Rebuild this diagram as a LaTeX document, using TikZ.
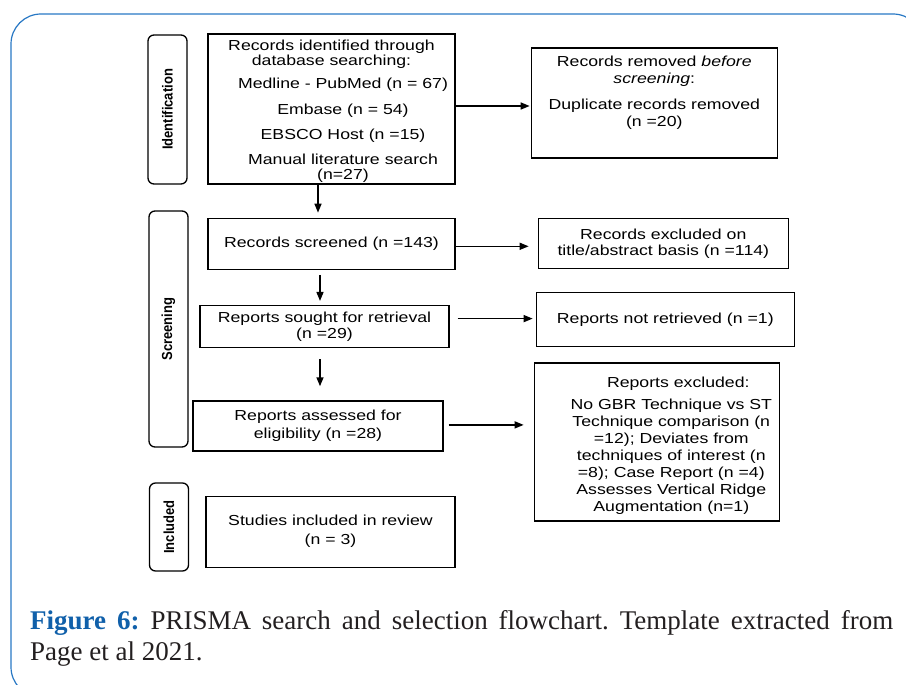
\documentclass[tikz,border=0pt]{standalone}
\usepackage{fontspec}
\newfontfamily\boxfont[FakeStretch=1.22]{Liberation Sans}
\newfontfamily\labfont{Liberation Sans}
\newfontfamily\capfont{Liberation Serif}
\usetikzlibrary{arrows.meta, positioning}
\definecolor{frameblue}{RGB}{40, 120, 196}
\definecolor{capblue}{RGB}{16, 96, 170}
\definecolor{captext}{RGB}{35, 31, 32}
\newcommand{\phaselabel}[1]{\scalebox{1}[1.12]{#1}}
\tikzset{
  flowbox/.style={draw, line width=1.3pt, inner sep=0pt, align=center, font=\boxfont\fontsize{14.5}{16.5}\selectfont},
  boxtext/.style={align=center, inner sep=0pt, font=\boxfont\fontsize{14.5}{16.5}\selectfont},
  phasebox/.style={draw, line width=1.3pt, rounded corners=6pt, rotate=90, inner sep=0pt, minimum height=39pt, font=\labfont\bfseries\fontsize{13}{15}\selectfont},
  flowarrow/.style={-{Triangle[length=9pt, width=7pt]}, line width=1.5pt},
}

\begin{document}
\begin{tikzpicture}[x=1pt, y=-1pt, node distance=35pt]
  \useasboundingbox (0,0) rectangle (906,685);
  \draw[frameblue, line width=1.2pt, rounded corners=30pt] (11,14) rectangle (923,697);

  % identification
  \node[flowbox, minimum width=247pt, minimum height=150pt] (ident) at (331.5,109) {};
  \node[boxtext] (idhead) at ([yshift=-20.5pt]ident.north) {Records identified through\\[-1.5pt]database searching:};
  \node[boxtext] (idsrc) at ([xshift=11.5pt, yshift=-21pt]ident.center) {Medline - PubMed (n = 67)\\[9pt]Embase (n = 54)\\[8.5pt]EBSCO Host (n =15)\\[8.5pt]Manual literature search\\[-1.5pt](n=27)};
  \node[flowbox, minimum width=246pt, minimum height=110pt, right=75pt of ident, yshift=6pt] (removed) {};
  \node[boxtext] (remtxt) at ([yshift=-45pt]removed.north) {Records removed \textit{before}\\[0.5pt]\textit{screening}:\\[9.5pt]Duplicate records removed\\[0.5pt](n =20)};

  % screening
  \node[flowbox, minimum width=247pt, minimum height=51pt, below=33pt of ident] (screened) {Records screened (n =143)};
  \node[flowbox, minimum width=250pt, minimum height=50pt, right=82pt of screened] (exclta) {Records excluded on\\title/abstract basis (n =114)};
  \node[flowbox, minimum width=249pt, minimum height=42pt, below=of screened, xshift=-7pt] (sought) {Reports sought for retrieval\\(n =29)};
  \node[flowbox, minimum width=258pt, minimum height=54pt, right=86pt of sought, yshift=7pt] (notret) {Reports not retrieved (n =1)};
  \node[flowbox, minimum width=250pt, minimum height=50pt, below=52pt of sought, xshift=-6.5pt] (assessed) {Reports assessed for\\[1.5pt]eligibility (n =28)};
  \node[flowbox, minimum width=245pt, minimum height=158pt, right=90pt of assessed, yshift=-16pt] (exclrep) {};
  \node[boxtext] (exclhead) at ([xshift=21.5pt, yshift=-21pt]exclrep.north) {Reports excluded:};
  \node[boxtext] (exclwhy) at ([xshift=14.5pt, yshift=-15pt]exclrep.center) {No GBR Technique vs ST\\[0.5pt]Technique comparison (n\\[0.5pt]=12); Deviates from\\[0.5pt]techniques of interest (n\\[0.5pt]=8); Case Report (n =4)\\[0.5pt]Assesses Vertical Ridge\\[0.5pt]Augmentation (n=1)};

  % included
  \node[flowbox, minimum width=249pt, minimum height=71pt, below=44pt of assessed, xshift=12.5pt] (studies) {Studies included in review\\[2.5pt](n = 3)};

  % phase labels
  \node[phasebox, minimum width=149pt] (idlab) at (167.5,109.5) {\phaselabel{Identification}};
  \node[phasebox, minimum width=236pt] (scrlab) at (168.5,329) {\phaselabel{Screening}};
  \node[phasebox, minimum width=88pt] (inclab) at (169,527) {\phaselabel{Included}};

  \foreach \a/\b/\dx/\sa/\sb in {ident/screened/-13.5/0/5, screened/sought/-11.5/5/4, sought/assessed/-4.5/11/14}
    \draw[flowarrow, shorten <=\sa pt, shorten >=\sb pt] ([xshift=\dx pt]\a.south) -- ([xshift=\dx pt]\a.south |- \b.north);
  \foreach \a/\b/\dy/\sa/\sb in {ident/removed/3/0/1, screened/exclta/-2.5/0/9, sought/notret/8/8/3, assessed/exclrep/1/5/10}
    \draw[flowarrow, shorten <=\sa pt, shorten >=\sb pt] ([yshift=\dy pt]\a.east) -- ([yshift=\dy pt]\a.east -| \b.west);

  \node[anchor=north west, inner sep=0pt, text width=863pt, align=justify, text=captext, font=\capfont\fontsize{27}{31}\selectfont\frenchspacing] (caption) at (30,610) {{\color{capblue}\bfseries Figure 6:} PRISMA search and selection flowchart. Template extracted from\linebreak Page et al 2021.};
\end{tikzpicture}
\end{document}
